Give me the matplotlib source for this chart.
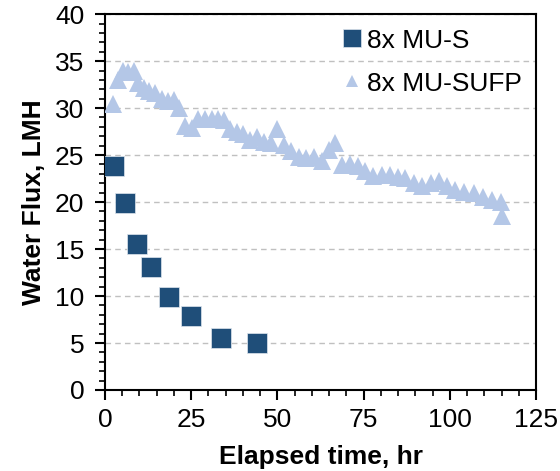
import matplotlib
matplotlib.use("Agg")
import matplotlib.pyplot as plt
from matplotlib.ticker import MultipleLocator

plt.rcParams['font.family'] = ['Liberation Sans', 'DejaVu Sans']

# 8x MU-S
mus_time = [2.5, 5.9, 9.4, 13.3, 18.6, 25.0, 33.5, 44.2]
mus_flux = [23.8, 19.9, 15.5, 13.1, 9.9, 7.9, 5.5, 5.0]

# 8x MU-SUFP
mufp_time = [2.2, 3.7, 5.3, 6.8, 8.4, 9.5, 11.2, 12.9, 14.5, 16.5,
             18.2, 20.0, 21.5, 23.3, 25.2, 27.1, 29.1, 31.0, 32.7, 34.4,
             36.3, 38.2, 40.0, 41.9, 44.0, 46.0, 48.1, 50.0, 52.0, 54.0,
             56.2, 58.4, 60.6, 62.8, 64.9, 66.7, 68.8, 71.1, 73.3, 75.4,
             77.8, 80.2, 82.6, 84.9, 87.1, 89.6, 92.0, 94.5, 96.9, 99.2,
             101.5, 104.1, 106.9, 109.5, 112.1, 114.8, 115.0]
mufp_flux = [30.4, 33.0, 34.0, 33.8, 33.9, 32.7, 32.1, 31.8, 31.6, 31.0,
             30.8, 30.9, 30.0, 28.1, 27.9, 28.8, 28.8, 28.8, 28.8, 28.7,
             27.8, 27.5, 27.2, 26.6, 26.9, 26.4, 26.3, 27.8, 26.1, 25.4,
             24.8, 24.7, 24.8, 24.4, 25.5, 26.3, 23.9, 24.1, 23.8, 23.3,
             22.8, 22.9, 22.9, 22.7, 22.6, 22.0, 21.7, 22.0, 22.2, 21.7,
             21.3, 21.1, 21.0, 20.5, 20.2, 20.0, 18.5]

series_labels = ["8x MU-S", "8x MU-SUFP"]
dark_blue = "#1F4E79"
light_blue = "#B4C7E7"

fig = plt.figure(figsize=(5.6, 4.71), dpi=100)
ax = fig.add_axes([0.1875, 0.172, 0.770, 0.798])

ax.plot(mus_time, mus_flux, linestyle='none', marker='s', markersize=15,
        color=dark_blue, markeredgecolor='#dfe6ee', markeredgewidth=0.5,
        label=series_labels[0], zorder=3)
ax.plot(mufp_time, mufp_flux, linestyle='none', marker='^', markersize=13,
        color=light_blue, markeredgewidth=0, label=series_labels[1], zorder=3)

ax.set_xlim(0, 125)
ax.set_ylim(0, 40)
ax.xaxis.set_major_locator(MultipleLocator(25))
ax.xaxis.set_minor_locator(MultipleLocator(5))
ax.yaxis.set_major_locator(MultipleLocator(5))
ax.yaxis.set_minor_locator(MultipleLocator(1))

ax.yaxis.grid(True, which='major', linestyle=(0, (4, 3)), color='#c0c0c0',
              linewidth=1.0)
ax.set_axisbelow(True)

for s in ax.spines.values():
    s.set_linewidth(1.5)
    s.set_color('black')

ax.tick_params(which='major', direction='out', length=7, width=1.5,
               labelsize=19, pad=6)
ax.tick_params(axis='y', which='major', pad=8)
ax.tick_params(which='minor', direction='out', length=4, width=1.2)

ax.set_xlabel("Elapsed time, hr", fontsize=19, fontweight='bold', labelpad=9)
ax.set_ylabel("Water Flux, LMH", fontsize=19, fontweight='bold', labelpad=6)

leg = ax.legend(loc='upper right', frameon=False, fontsize=19,
                handlelength=0.6, handletextpad=0.25, labelspacing=0.72,
                borderaxespad=0.15, bbox_to_anchor=(1.0, 1.0))
handles = leg.legend_handles
handles[0].set_markersize(13)
handles[1].set_markersize(8)

fig.savefig("out.png", dpi=100)
